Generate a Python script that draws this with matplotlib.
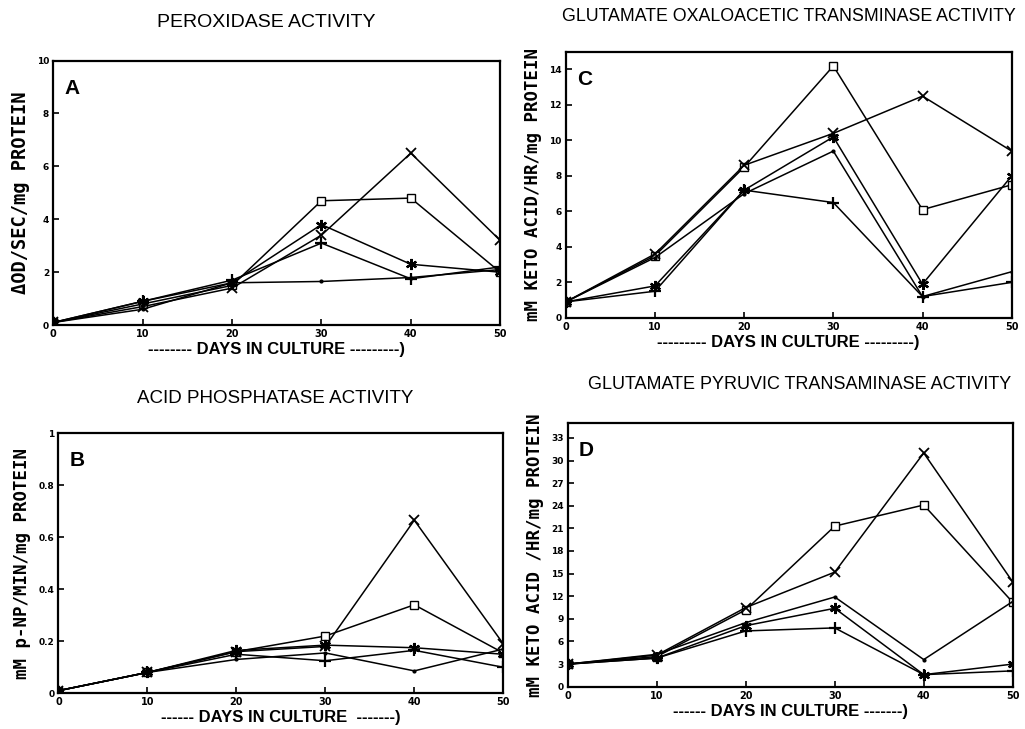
import matplotlib
matplotlib.use("Agg")
import matplotlib.pyplot as plt

# days in culture, shared by all four panels
days = [0, 10, 20, 30, 40, 50]

# A: peroxidase activity
perox_square = [0.1, 0.8, 1.5, 4.7, 4.8, 2.0]
perox_x = [0.1, 0.7, 1.4, 3.4, 6.5, 3.2]
perox_star = [0.1, 0.9, 1.6, 3.8, 2.3, 2.0]
perox_plus = [0.1, 0.9, 1.7, 3.1, 1.75, 2.2]
perox_dot = [0.1, 0.6, 1.6, 1.65, 1.8, 2.1]

# B: acid phosphatase activity
acid_square = [0.01, 0.08, 0.16, 0.22, 0.34, 0.155]
acid_x = [0.01, 0.08, 0.16, 0.18, 0.665, 0.19]
acid_star = [0.01, 0.08, 0.165, 0.185, 0.175, 0.15]
acid_plus = [0.01, 0.08, 0.15, 0.125, 0.165, 0.10]
acid_dot = [0.01, 0.08, 0.13, 0.155, 0.086, 0.17]

# C: glutamate oxaloacetic transaminase activity
got_square = [0.9, 3.5, 8.5, 14.2, 6.1, 7.5]
got_x = [0.9, 3.6, 8.6, 10.4, 12.5, 9.4]
got_star = [0.9, 1.8, 7.2, 10.2, 1.9, 8.0]
got_plus = [0.9, 1.5, 7.2, 6.5, 1.2, 2.0]
got_dot = [0.9, 3.4, 7.0, 9.4, 1.2, 2.6]

# D: glutamate pyruvic transaminase activity
gpt_square = [3.0, 4.0, 10.2, 21.3, 24.1, 11.2]
gpt_x = [3.0, 4.2, 10.5, 15.2, 31.0, 13.9]
gpt_star = [3.0, 3.8, 8.1, 10.4, 1.6, 3.0]
gpt_plus = [3.0, 3.8, 7.4, 7.8, 1.6, 2.1]
gpt_dot = [3.0, 4.3, 8.5, 11.9, 3.6, 11.3]

panels = [
    dict(pos=[0.052, 0.554, 0.436, 0.363], letter="A", title="PEROXIDASE ACTIVITY",
         title_xy=(0.26, 0.969), title_size=14, ylabel="\u0394OD/SEC/mg PROTEIN",
         ylabel_size=13.5,
         series=[perox_square, perox_x, perox_star, perox_plus, perox_dot],
         ylim=(0, 10), yticks=[0, 2, 4, 6, 8, 10],
         yticklabels=["0", "2", "4", "6", "8", "10"],
         xlabel="-------- DAYS IN CULTURE ---------)"),
    dict(pos=[0.057, 0.049, 0.434, 0.357], letter="B", title="ACID PHOSPHATASE ACTIVITY",
         title_xy=(0.268, 0.453), title_size=13.5, ylabel="mM p-NP/MIN/mg PROTEIN",
         ylabel_size=12.5,
         series=[acid_square, acid_x, acid_star, acid_plus, acid_dot],
         ylim=(0, 1), yticks=[0, 0.2, 0.4, 0.6, 0.8, 1.0],
         yticklabels=["0", "0.2", "0.4", "0.6", "0.8", "1"],
         xlabel="------ DAYS IN CULTURE  -------)"),
    dict(pos=[0.552, 0.564, 0.435, 0.365], letter="C",
         title="GLUTAMATE OXALOACETIC TRANSMINASE ACTIVITY",
         title_xy=(0.77, 0.978), title_size=12.8, ylabel="mM KETO ACID/HR/mg PROTEIN",
         ylabel_size=12.5,
         series=[got_square, got_x, got_star, got_plus, got_dot],
         ylim=(0, 15), yticks=[0, 2, 4, 6, 8, 10, 12, 14],
         yticklabels=["0", "2", "4", "6", "8", "10", "12", "14"],
         xlabel="--------- DAYS IN CULTURE ---------)"),
    dict(pos=[0.554, 0.058, 0.434, 0.362], letter="D",
         title="GLUTAMATE PYRUVIC TRANSAMINASE ACTIVITY",
         title_xy=(0.78, 0.472), title_size=13, ylabel="mM KETO ACID /HR/mg PROTEIN",
         ylabel_size=12.5,
         series=[gpt_square, gpt_x, gpt_star, gpt_plus, gpt_dot],
         ylim=(0, 35), yticks=list(range(0, 34, 3)),
         yticklabels=[str(v) for v in range(0, 34, 3)],
         xlabel="------ DAYS IN CULTURE -------)"),
]

markers = [
    dict(marker="s", markersize=6, markerfacecolor="white"),
    dict(marker="x", markersize=7, markeredgewidth=1.3),
    dict(marker=(6, 2, 0), markersize=8, markeredgewidth=1.6),
    dict(marker="+", markersize=9, markeredgewidth=1.6),
    dict(marker=".", markersize=4),
]

fig = plt.figure(figsize=(10.25, 7.29), dpi=100)

for p in panels:
    ax = fig.add_axes(p["pos"])
    for vals, m in zip(p["series"], markers):
        ax.plot(days, vals, color="black", linewidth=1.1, **m)
    ax.set_xlim(0, 50)
    ax.set_ylim(*p["ylim"])
    ax.set_xticks(days)
    ax.set_xticklabels([str(d) for d in days], fontsize=7, fontweight="bold",
                       family="DejaVu Sans")
    ax.set_yticks(p["yticks"])
    ax.set_yticklabels(p["yticklabels"], fontsize=6.5, fontweight="bold",
                       family="DejaVu Sans")
    ax.tick_params(direction="in", length=4, width=1.2, pad=3)
    for s in ax.spines.values():
        s.set_linewidth(1.6)
    ax.text(0.025, 0.93, p["letter"], transform=ax.transAxes, fontsize=15,
            fontweight="bold", family="Liberation Sans", va="top")
    ax.set_ylabel(p["ylabel"], fontsize=p["ylabel_size"], fontweight="bold",
                  family="DejaVu Sans Mono", labelpad=5)
    ax.set_xlabel(p["xlabel"], fontsize=12, fontweight="bold",
                  family="Liberation Sans", labelpad=2)
    fig.text(p["title_xy"][0], p["title_xy"][1], p["title"], ha="center",
             va="center", fontsize=p["title_size"], family="Liberation Sans")

fig.savefig("out.png", dpi=100)
